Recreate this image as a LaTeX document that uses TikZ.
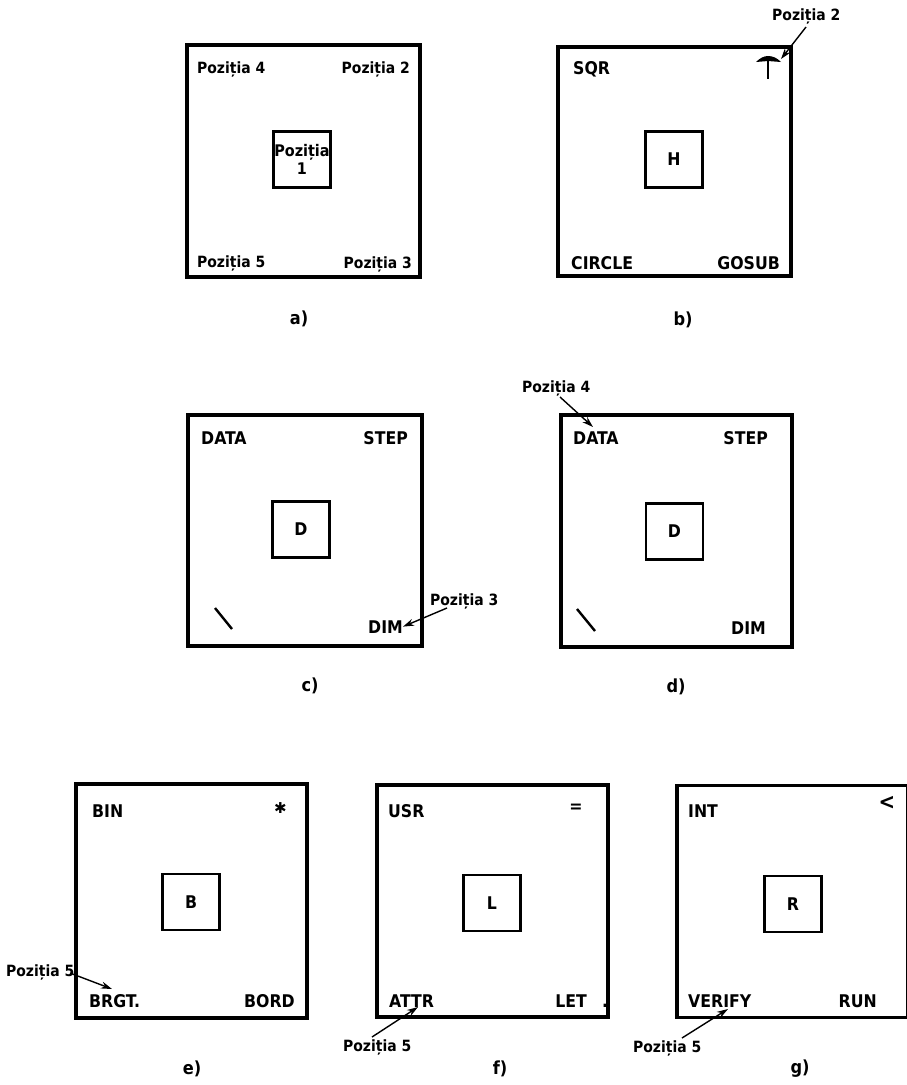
\documentclass[tikz,border=0pt]{standalone}
\usepackage{fontspec}
\setmainfont{DejaVu Sans Condensed}
\newfontfamily\symfont{DejaVu Sans}
\usetikzlibrary{arrows.meta}
\begin{document}
\begin{tikzpicture}[x=1pt,y=-1pt,
  outerbox/.style={draw, line width=3.3pt, inner sep=0pt, minimum width=231pt, minimum height=232pt},
  innerbox/.style={draw, line width=2.8pt, inner sep=0pt, minimum width=57pt, minimum height=56pt, font=\bfseries\fontsize{17.5}{20}\selectfont},
  keylbl/.style={inner sep=0pt, font=\bfseries\fontsize{17.5}{20}\selectfont},
  poslbl/.style={inner sep=0pt, font=\bfseries\fontsize{15.5}{18}\selectfont},
  caption/.style={inner sep=0pt, font=\bfseries\fontsize{18}{20}\selectfont},
  ptr/.style={line width=1.4pt, -{Stealth[length=11pt,width=7pt]}},
  tick/.style={line width=2.4pt}
]
\useasboundingbox (0,0) rectangle (907,1085);
\clip (0,0) rectangle (907,1085);

% ---------- a) ----------
\node[outerbox, minimum width=233pt] (A) at (303.5,161) {};
\node[innerbox, font=\bfseries\fontsize{16}{18}\selectfont, align=center] (Ai) at (302,159.5) {Poziția\\1};
\node[poslbl, anchor=base west] (A4) at (197,73) {Poziția 4};
\node[poslbl, anchor=base east] (A2) at (410,73) {Poziția 2};
\node[poslbl, anchor=base west] (A5) at (197,267) {Poziția 5};
\node[poslbl, anchor=base east] (A3) at (412,268) {Poziția 3};
\node[caption] (capa) at (299,319) {a)};

% ---------- b) ----------
\node[outerbox, minimum width=233pt, minimum height=229pt] (B) at (674.5,161.5) {};
\node[innerbox] (Bi) at (674,159.5) {H};
\node[keylbl, anchor=base west] (Bsqr) at (573,74) {SQR};
\node[keylbl, anchor=base west] (Bcircle) at (571,269) {CIRCLE};
\node[keylbl, anchor=base east] (Bgosub) at (780,269) {GOSUB};
\fill (756,62) .. controls (760,58) and (764,56) .. (768,56) .. controls (773,56) and (777,58) .. (781,62) -- (768,61) -- cycle;
\draw[line width=2.4pt] (768,58) -- (768,79);
\node[poslbl, anchor=base west] (B2) at (772,20) {Poziția 2};
\coordinate (B2s) at (806,27);
\coordinate (Bt) at (781,59);
\draw[ptr] (B2s) -- (Bt);
\node[caption] (capb) at (683,320) {b)};

% ---------- c) ----------
\node[outerbox, minimum width=234pt, minimum height=231pt] (C) at (305,530.5) {};
\node[innerbox] (Ci) at (301,529.5) {D};
\node[keylbl, anchor=base west] (Cdata) at (201,444) {DATA};
\node[keylbl, anchor=base east] (Cstep) at (408,444) {STEP};
\node[keylbl, anchor=base east] (Cdim) at (403,633) {DIM};
\draw[tick] (215,608) -- (232,629);
\node[poslbl, anchor=base west] (C3) at (430,605) {Poziția 3};
\coordinate (C3s) at (447,608);
\draw[ptr] (C3s) -- (Cdim.east);
\node[caption] (capc) at (310,686) {c)};

% ---------- d) ----------
\node[outerbox] (D) at (676.5,531) {};
\node[innerbox] (Di) at (674.5,531.5) {D};
\node[keylbl, anchor=base west] (Ddata) at (573,444) {DATA};
\node[keylbl, anchor=base east] (Dstep) at (768,444) {STEP};
\node[keylbl, anchor=base east] (Ddim) at (766,634) {DIM};
\draw[tick] (577,609) -- (595,631);
\node[poslbl, anchor=base west] (D4) at (522,392) {Poziția 4};
\coordinate (D4s) at (560,397);
\coordinate (Dt) at (593,427);
\draw[ptr] (D4s) -- (Dt);
\node[caption] (capd) at (676,687) {d)};

% ---------- e) ----------
\node[outerbox, minimum height=234pt] (E) at (191.5,901) {};
\node[innerbox] (Ei) at (191,902) {B};
\node[keylbl, anchor=base west] (Ebin) at (92,817) {BIN};
\node[inner sep=0pt, font=\symfont\bfseries\fontsize{15}{16}\selectfont] (Estar) at (280.5,808) {✱};
\node[keylbl, anchor=base west] (Ebrgt) at (89,1007) {BRGT.};
\node[keylbl, anchor=base east] (Ebord) at (295,1007) {BORD};
\node[poslbl, anchor=base west] (E5) at (6,976) {Poziția 5};
\coordinate (E5s) at (70,973);
\coordinate (Et) at (112,989);
\draw[ptr] (E5s) -- (Et);
\node[caption] (cape) at (192,1069) {e)};

% ---------- f) ----------
\node[outerbox] (F) at (492.5,901) {};
\node[innerbox] (Fi) at (492,903) {L};
\node[keylbl, anchor=base west] (Fusr) at (388,817) {USR};
\node[keylbl] (Feq) at (576,808) {=};
\node[keylbl, anchor=base west] (Fattr) at (389,1007) {ATTR};
\node[keylbl, anchor=base east] (Flet) at (587,1007) {LET};
\node[keylbl, anchor=base] (Fdot) at (605,1007) {.};
\node[poslbl, anchor=base west] (F5) at (343,1051) {Poziția 5};
\coordinate (F5s) at (372,1037);
\coordinate (Ft) at (418,1007);
\draw[ptr] (F5s) -- (Ft);
\node[caption] (capf) at (500,1069) {f)};

% ---------- g) ----------
\node[outerbox] (G) at (792.5,901.5) {};
\node[innerbox] (Gi) at (793,904) {R};
\node[keylbl, anchor=base west] (Gint) at (688,817) {INT};
\node[keylbl, font=\bfseries\fontsize{22}{24}\selectfont] (Glt) at (887,803) {<};
\node[keylbl, anchor=base west] (Gverify) at (688,1007) {VERIFY};
\node[keylbl, anchor=base east] (Grun) at (877,1007) {RUN};
\node[poslbl, anchor=base west] (G5) at (633,1052) {Poziția 5};
\coordinate (G5s) at (682,1038);
\coordinate (Gt) at (728,1009);
\draw[ptr] (G5s) -- (Gt);
\node[caption] (capg) at (800,1069) {g)};
\end{tikzpicture}
\end{document}
